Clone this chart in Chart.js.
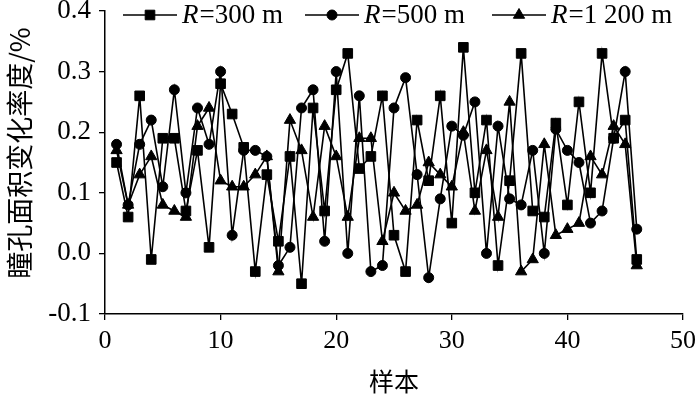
<!DOCTYPE html>
<html><head><meta charset="utf-8">
<script src="https://cdn.jsdelivr.net/npm/chart.js@4/dist/chart.umd.min.js"></script>
<style>html,body{margin:0;padding:0;background:#fff}#wrap{width:700px;height:399px}</style>
</head><body><div id="wrap"><canvas id="c" width="700" height="399"></canvas></div>
<script>
const samples = [1,2,3,4,5,6,7,8,9,10,11,12,13,14,15,16,17,18,19,20,21,22,23,24,25,26,27,28,29,30,31,32,33,34,35,36,37,38,39,40,41,42,43,44,45,46];
const r300 = [0.15,0.06,0.26,-0.01,0.19,0.19,0.07,0.17,0.01,0.28,0.23,0.175,-0.03,0.13,0.02,0.16,-0.05,0.24,0.07,0.27,0.33,0.14,0.16,0.26,0.03,-0.03,0.22,0.12,0.26,0.05,0.34,0.10,0.22,-0.02,0.12,0.33,0.07,0.06,0.215,0.08,0.25,0.10,0.33,0.19,0.22,-0.01];
const r500 = [0.18,0.08,0.18,0.22,0.11,0.27,0.10,0.24,0.18,0.30,0.03,0.17,0.17,0.16,-0.02,0.01,0.24,0.27,0.02,0.30,0.00,0.26,-0.03,-0.02,0.24,0.29,0.13,-0.04,0.09,0.21,0.195,0.25,0.00,0.21,0.09,0.08,0.17,0.00,0.205,0.17,0.15,0.05,0.07,0.19,0.30,0.04];
const r1200 = [0.17,0.08,0.13,0.16,0.08,0.07,0.06,0.21,0.24,0.12,0.11,0.11,0.13,0.16,-0.03,0.22,0.17,0.06,0.21,0.16,0.06,0.19,0.19,0.02,0.10,0.07,0.08,0.15,0.13,0.11,0.20,0.07,0.17,0.06,0.25,-0.03,-0.01,0.18,0.03,0.04,0.05,0.16,0.13,0.21,0.18,-0.02];
const seriesLabels = ['R=300 m','R=500 m','R=1 200 m'];
const xTicks = [0,10,20,30,40,50];
const yTicks = [-0.1,0.0,0.1,0.2,0.3,0.4];
const xTitle = '样本';
const yTitle = '瞳孔面积变化率度/%';

const serif = '"Liberation Serif","Times New Roman",serif';
const cjk = '"Noto Sans CJK SC","Noto Sans CJK JP",sans-serif';

function mk(vals, label, style, radius){
  return {
    label, data: samples.map((s,i)=>({x:s,y:vals[i]})),
    borderColor:'#000', backgroundColor:'#000', borderWidth:1.6,
    pointStyle:style, pointRadius:radius, pointHoverRadius:radius,
    pointBackgroundColor:'#000', pointBorderColor:'#000', pointBorderWidth:1,
    tension:0, fill:false
  };
}

function drawMarker(ctx, style, x, y, r){
  ctx.beginPath();
  if(style==='rect'){ const s=r*Math.SQRT1_2; ctx.rect(x-s,y-s,2*s,2*s); }
  else if(style==='circle'){ ctx.arc(x,y,r,0,Math.PI*2); }
  else { ctx.moveTo(x, y - r); ctx.lineTo(x - r*Math.sqrt(3)/2, y + r/2); ctx.lineTo(x + r*Math.sqrt(3)/2, y + r/2); ctx.closePath(); }
  ctx.fill(); ctx.stroke();
}

const legendPlugin = {
  id:'customLegend',
  afterDraw(chart){
    const ctx = chart.ctx;
    const xs = [123,305,492];
    const y = 15;
    chart.data.datasets.forEach((ds,i)=>{
      const x0 = xs[i];
      ctx.save();
      ctx.strokeStyle='#000'; ctx.fillStyle='#000'; ctx.lineWidth=1.6;
      ctx.beginPath(); ctx.moveTo(x0,y); ctx.lineTo(x0+54,y); ctx.stroke();
      ctx.lineWidth=1;
      drawMarker(ctx, ds.pointStyle, x0+27, y, ds.pointRadius);
      const lbl = ds.label;
      ctx.textBaseline='middle'; ctx.textAlign='left';
      ctx.font = 'italic 27px ' + serif;
      const tx = x0 + 59;
      ctx.fillText(lbl[0], tx, y+1);
      const w = ctx.measureText(lbl[0]).width;
      ctx.font = '27px ' + serif;
      ctx.fillText(lbl.slice(1), tx + w + 1, y+1);
      ctx.restore();
    });
    // y-axis title
    ctx.save();
    ctx.translate(20, 153);
    ctx.rotate(-Math.PI/2);
    ctx.fillStyle = '#000';
    ctx.font = '27px ' + cjk;
    ctx.textAlign = 'center'; ctx.textBaseline = 'middle';
    ctx.fillText(yTitle, 0, 0);
    ctx.restore();
  }
};

new Chart(document.getElementById('c'), {
  type:'line',
  data:{ datasets:[ mk(r300, seriesLabels[0], 'rect', 6.8), mk(r500, seriesLabels[1], 'circle', 5), mk(r1200, seriesLabels[2], 'triangle', 6.5) ] },
  options:{
    responsive:false, animation:false, devicePixelRatio:1,
    layout:{ padding:{ top:11, right:17, left:0, bottom:0 } },
    plugins:{ legend:{display:false}, tooltip:{enabled:false} },
    scales:{
      x:{ type:'linear', min:0, max:50,
        afterBuildTicks(s){ s.ticks = xTicks.map(v=>({value:v})); },
        afterFit(s){ s.height = 85; s.paddingLeft = 0; s.paddingRight = 0; },
        ticks:{ font:{family:serif, size:26}, color:'#000', padding:6, maxRotation:0, autoSkip:false },
        grid:{ drawOnChartArea:false, drawTicks:true, tickLength:6, color:'#000', lineWidth:1.3 },
        border:{ display:true, color:'#000', width:1.5 },
        title:{ display:true, text:xTitle, font:{family:cjk, size:25}, color:'#000', padding:{top:0,bottom:3} }
      },
      y:{ type:'linear', min:-0.1, max:0.4,
        afterBuildTicks(s){ s.ticks = yTicks.map(v=>({value:v})); },
        afterFit(s){ s.width = 105; s.paddingTop = 0; s.paddingBottom = 0; },
        ticks:{ font:{family:serif, size:27}, color:'#000', padding:8, callback:(v)=>Number(v).toFixed(1) },
        grid:{ drawOnChartArea:false, drawTicks:true, tickLength:6, color:'#000', lineWidth:1.3 },
        border:{ display:true, color:'#000', width:1.5 },
        title:{ display:false }
      }
    }
  },
  plugins:[legendPlugin]
});
</script>
</body></html>
